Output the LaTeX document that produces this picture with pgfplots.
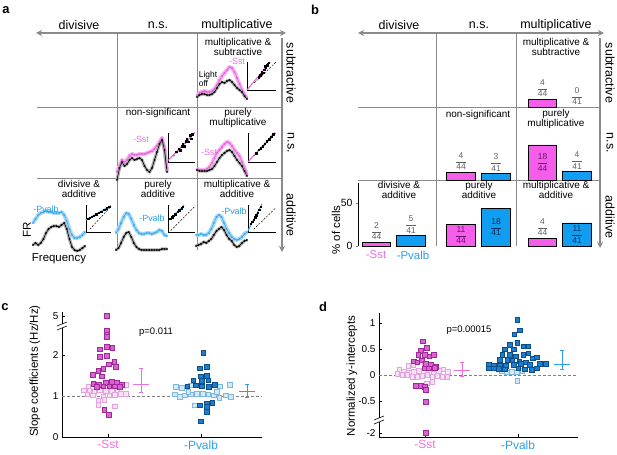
\documentclass[border=0pt]{standalone}
\usepackage{pgfplots}
\pgfplotsset{compat=1.18}
\usepackage{pgfplotstable}
\usepackage{fontspec}
\setmainfont{Liberation Sans}
\usetikzlibrary{arrows.meta}

\definecolor{sstc}{HTML}{EC6FE2}
\definecolor{pvc}{HTML}{2C9FE6}
\definecolor{barm}{HTML}{F55DEB}
\definecolor{barb}{HTML}{119DF0}
\definecolor{darkm}{HTML}{6A126A}
\definecolor{darkb}{HTML}{0B2D5C}
\definecolor{fracg}{HTML}{606060}
\definecolor{sstF}{HTML}{D865CE}
\definecolor{sstE}{HTML}{A02898}
\definecolor{sstOF}{HTML}{F8E2F6}
\definecolor{sstOE}{HTML}{E2A4DE}
\definecolor{pvF}{HTML}{1F7ECC}
\definecolor{pvE}{HTML}{0E4E88}
\definecolor{pvOF}{HTML}{D3E9F8}
\definecolor{pvOE}{HTML}{7EB7E0}
\definecolor{gridc}{HTML}{8A8A8A}
\definecolor{bandm}{HTML}{F6B2F0}
\definecolor{bandb}{HTML}{A8DAF8}
\definecolor{bandk}{HTML}{B0B0B0}
\definecolor{linem}{HTML}{E95BE0}
\definecolor{lineb}{HTML}{35A8EE}

\newcommand{\fr}[2]{$\displaystyle\frac{\hbox{#1}}{\hbox{#2}}$}
\newcommand{\fs}[1]{\fontsize{#1}{#1}\selectfont}
\newcommand{\ft}{\fontsize{10}{10.6}\selectfont}

\tikzset{
  fracup/.style={anchor=south, yshift=2bp, font=\fs{8.5}, text=fracg, inner sep=0pt},
  fracinM/.style={font=\fs{8.5}, text=darkm, inner sep=0pt},
  fracinB/.style={font=\fs{8.5}, text=darkb, inner sep=0pt},
  ctitle/.style={font=\ft, align=center, inner sep=0pt},
  head/.style={font=\fs{12.5}},
  side/.style={font=\fs{12.5}, rotate=-90},
}
\pgfplotsset{
  every axis/.append style={scale only axis, anchor=south west},
  curveax/.style={hide axis, xmin=0, xmax=20, ymin=0, clip=false},
  insetax/.style={xmin=0,xmax=1,ymin=0,ymax=1, axis x line=bottom, axis y line=left,
     axis line style={-, line width=0.7pt}, xtick=\empty, ytick=\empty, clip=false},
  bandM/.style={bandm, line width=4bp, line join=round},
  bandB/.style={bandb, line width=4bp, line join=round},
  bandK/.style={bandk, line width=3.2bp, line join=round},
  crvM/.style={linem, line width=0.6pt, mark=o, mark size=0.85bp, mark options={line width=0.4pt}},
  crvB/.style={lineb, line width=0.6pt, mark=o, mark size=0.85bp, mark options={line width=0.4pt}},
  crvK/.style={black, line width=0.6pt, mark=o, mark size=0.85bp, mark options={line width=0.4pt}},
  dots/.style={only marks, mark=square*, mark size=0.75bp, black},
  diag/.style={dashed, black, line width=0.5pt, dash pattern=on 2pt off 1.5pt},
  barrow/.style={xmin=358, xmax=600, ymin=0, width=242bp, clip=false},
  bM/.style={ybar, bar width=28.5, bar shift=0pt, fill=barm, draw=black, line width=0.6pt},
  bB/.style={ybar, bar width=28.5, bar shift=0pt, fill=barb, draw=black, line width=0.6pt},
  scat/.style={only marks, mark=square*, mark size=2.3bp},
  sOpen/.style={scat, mark options={fill=sstOF, draw=sstOE, line width=0.6pt}},
  sFill/.style={scat, mark options={fill=sstF, draw=sstE, line width=0.6pt}},
  pOpen/.style={scat, mark options={fill=pvOF, draw=pvOE, line width=0.6pt}},
  pFill/.style={scat, mark options={fill=pvF, draw=pvE, line width=0.6pt}},
  statax/.style={axis x line=bottom, axis y line=left, axis line style={-, line width=0.6pt},
     tick align=inside, major tick length=3bp, tick style={black, line width=0.5pt},
     yticklabel style={font=\fs{10}}, xticklabel style={font=\fs{12}},
     /pgf/number format/assume math mode=true, xtick={108,201}},
}

% tuning curves: frequency index, light-off (k), light-on (m or b)
\pgfplotstableread{
i k m
0 3 4
1 5 7
2 6 8
3 6 9
4 5 8
5 5 8
6 6 9
7 8 11
8 12 15
9 16 20
10 18 24
11 17 27
12 19 30
13 20 33
14 18 32
15 15 28
16 12 22
17 10 16
18 8 10
19 4 5
20 1 2
}\tA
\pgfplotstableread{
i k m
0 0 8
1 12 14
2 18 20
3 14 18
4 16 20
5 20 24
6 22 26
7 20 25
8 21 25
9 22 26
10 20 26
11 14 26
12 10 27
13 8 28
14 12 29
15 20 31
16 28 34
17 36 38
18 40 42
19 30 32
20 8 10
}\tB
\pgfplotstableread{
i k m
0 8 9
1 7 8
2 7 8
3 7 8
4 7 9
5 8 11
6 9 15
7 12 20
8 16 25
9 20 28
10 23 31
11 25 34
12 27 36
13 28 35
14 26 32
15 22 28
16 18 25
17 15 22
18 12 16
19 7 10
20 2 4
}\tC
\pgfplotstableread{
i k b
0 10 32
1 12 36
2 10 40
3 12 42
4 16 43
5 22 44
6 26 43
7 28 43
8 29 42
9 29 42
10 28 42
11 30 43
12 32 40
13 26 34
14 16 26
15 8 20
16 5 17
17 4 17
18 5 18
19 7 20
20 9 23
}\tD
\pgfplotstableread{
i k b
0 5 22
1 7 26
2 12 32
3 18 38
4 22 42
5 23 41
6 18 36
7 12 30
8 8 25
9 6 22
10 5 21
11 5 21
12 5 22
13 5 22
14 5 21
15 5 22
16 5 23
17 5 25
18 6 24
19 6 20
20 6 19
}\tE
\pgfplotstableread{
i k b
0 9 20
1 10 20
2 11 21
3 13 20
4 12 20
5 14 22
6 16 26
7 20 32
8 24 38
9 26 40
10 28 38
11 25 32
12 20 26
13 16 22
14 14 18
15 10 16
16 8 15
17 9 16
18 12 18
19 14 21
20 15 23
}\tF

\begin{document}
\begin{tikzpicture}[x=1bp,y=1bp]
\path[use as bounding box] (0,0) rectangle (617,455);

% ================= panel a =================
\node[font=\bfseries\fs{13}] at (6,445) {a};
\foreach \t/\x in {divisive/79, n.s./158, multiplicative/237}
  \node[head] at (\x,430) {\t};
\draw[gridc, line width=0.8pt] (117,422) -- (117,205);
\draw[gridc, line width=0.8pt] (197,422) -- (197,205);
\draw[gridc, line width=0.8pt] (37,348) -- (282,348);
\draw[gridc, line width=0.8pt] (37,277) -- (282,277);
\draw[gridc, line width=1.6pt, {Stealth[length=6bp,width=6bp]}-{Stealth[length=6bp,width=6bp]}] (36,422) -- (286,422);
\draw[gridc, line width=1.6pt, -{Stealth[length=6bp,width=6bp]}] (282,417) -- (282,203);
\node[side] at (291,382) {subtractive};
\node[side] at (291,312) {n.s.};
\node[side] at (291,240) {additive};
\node[ctitle] at (238,408) {multiplicative \&\\subtractive};
\node[ctitle] at (158,342) {non-significant};
\node[ctitle] at (238,337) {purely\\multiplicative};
\node[ctitle] at (79,266) {divisive \&\\additive};
\node[ctitle] at (158,266) {purely\\additive};
\node[ctitle] at (237,266) {multiplicative \&\\additive};

% curves
\begin{axis}[curveax, at={(197bp,355bp)}, width=50bp, height=40bp, ymax=40]
\addplot[bandM] table[x=i,y=m]{\tA};
\addplot[bandK] table[x=i,y=k]{\tA};
\addplot[crvM] table[x=i,y=m]{\tA};
\addplot[crvK] table[x=i,y=k]{\tA};
\end{axis}
\begin{axis}[curveax, at={(117bp,275bp)}, width=50bp, height=45bp, ymax=45]
\addplot[bandM] table[x=i,y=m]{\tB};
\addplot[bandK] table[x=i,y=k]{\tB};
\addplot[crvM] table[x=i,y=m]{\tB};
\addplot[crvK] table[x=i,y=k]{\tB};
\end{axis}
\begin{axis}[curveax, at={(197bp,277bp)}, width=50bp, height=45bp, ymax=45]
\addplot[bandM] table[x=i,y=m]{\tC};
\addplot[bandK] table[x=i,y=k]{\tC};
\addplot[crvM] table[x=i,y=m]{\tC};
\addplot[crvK] table[x=i,y=k]{\tC};
\end{axis}
\begin{axis}[curveax, at={(33bp,200bp)}, width=52bp, height=50bp, ymax=50]
\addplot[bandB] table[x=i,y=b]{\tD};
\addplot[bandK] table[x=i,y=k]{\tD};
\addplot[crvB] table[x=i,y=b]{\tD};
\addplot[crvK] table[x=i,y=k]{\tD};
\end{axis}
\begin{axis}[curveax, at={(116bp,200bp)}, width=51bp, height=50bp, ymax=50]
\addplot[bandB] table[x=i,y=b]{\tE};
\addplot[bandK] table[x=i,y=k]{\tE};
\addplot[crvB] table[x=i,y=b]{\tE};
\addplot[crvK] table[x=i,y=k]{\tE};
\end{axis}
\begin{axis}[curveax, at={(196bp,200bp)}, width=51bp, height=50bp, ymax=50]
\addplot[bandB] table[x=i,y=b]{\tF};
\addplot[bandK] table[x=i,y=k]{\tF};
\addplot[crvB] table[x=i,y=b]{\tF};
\addplot[crvK] table[x=i,y=k]{\tF};
\end{axis}

% insets
\begin{axis}[insetax, at={(247bp,365bp)}, width=29bp, height=28bp]
\addplot[diag] coordinates {(0.25,0.25)(1,1)};
\addplot[linem, line width=1pt] coordinates {(0,0)(0.8,1)};
\addplot[dots] coordinates {(0.4,0.45)(0.45,0.52)(0.5,0.58)(0.55,0.62)(0.6,0.72)(0.65,0.8)(0.7,0.88)(0.72,0.93)(0.62,0.85)(0.5,0.65)(0.75,0.97)};
\end{axis}
\begin{axis}[insetax, at={(168bp,293bp)}, width=27bp, height=29bp]
\addplot[diag] coordinates {(0.2,0.2)(1,1)};
\addplot[linem, line width=1pt] coordinates {(0,0.05)(1,1.02)};
\addplot[dots] coordinates {(0.3,0.35)(0.4,0.45)(0.45,0.4)(0.55,0.62)(0.6,0.55)(0.7,0.78)(0.75,0.7)(0.82,0.92)(0.85,0.8)(0.5,0.55)(0.65,0.72)(0.9,0.95)};
\end{axis}
\begin{axis}[insetax, at={(248bp,293bp)}, width=28bp, height=29bp]
\addplot[diag] coordinates {(0.2,0.2)(1,1)};
\addplot[linem, line width=1pt] coordinates {(0,0)(0.95,1.02)};
\addplot[dots] coordinates {(0.3,0.3)(0.38,0.42)(0.45,0.47)(0.52,0.55)(0.6,0.63)(0.67,0.72)(0.75,0.78)(0.82,0.88)(0.9,0.95)};
\end{axis}
\begin{axis}[insetax, at={(86bp,223bp)}, width=25bp, height=27bp]
\addplot[diag] coordinates {(0.15,0.1)(1,0.95)};
\addplot[lineb, line width=1pt] coordinates {(0,0.45)(1,0.98)};
\addplot[dots] coordinates {(0.08,0.5)(0.15,0.53)(0.22,0.57)(0.3,0.6)(0.4,0.66)(0.5,0.72)(0.6,0.76)(0.72,0.83)(0.82,0.88)(0.92,0.93)};
\end{axis}
\begin{axis}[insetax, at={(168bp,223bp)}, width=27bp, height=27bp]
\addplot[diag] coordinates {(0.1,0.05)(1,0.95)};
\addplot[lineb, line width=1pt] coordinates {(0.05,0.45)(0.6,1)};
\addplot[dots] coordinates {(0.08,0.5)(0.15,0.55)(0.2,0.6)(0.27,0.65)(0.35,0.75)(0.42,0.8)(0.5,0.88)(0.55,0.93)};
\end{axis}
\begin{axis}[insetax, at={(248bp,223bp)}, width=28bp, height=27bp]
\addplot[diag] coordinates {(0.2,0.1)(1,0.9)};
\addplot[lineb, line width=1pt] coordinates {(0,0.05)(0.5,1.05)};
\addplot[dots] coordinates {(0.1,0.3)(0.15,0.38)(0.2,0.45)(0.25,0.55)(0.3,0.62)(0.35,0.72)(0.4,0.82)(0.45,0.93)};
\end{axis}

\node[font=\fs{8.5}, align=left, inner sep=0pt] at (208,376) {Light\\off};
\node[font=\fs{9}, text=sstc] at (237,394) {-Sst};
\node[font=\fs{9}, text=sstc] at (141,316) {-Sst};
\node[font=\fs{9}, text=sstc] at (209,303) {-Sst};
\node[font=\fs{9}, text=pvc] at (46,246) {-Pvalb};
\node[font=\fs{9}, text=pvc] at (152,237) {-Pvalb};
\node[font=\fs{9}, text=pvc] at (234,244) {-Pvalb};
\node[font=\fs{11.5}, rotate=90] at (27,225) {FR};
\node[font=\fs{11.5}] at (59,196) {Frequency};

% ================= panel b =================
\node[font=\bfseries\fs{13}] at (315,445) {b};
\foreach \t/\x in {divisive/399, n.s./479, multiplicative/556}
  \node[head] at (\x,430) {\t};
\draw[gridc, line width=0.8pt] (436,422) -- (436,209);
\draw[gridc, line width=0.8pt] (516,422) -- (516,209);
\draw[gridc, line width=0.8pt] (358,348) -- (600,348);
\draw[gridc, line width=0.8pt] (358,275) -- (600,275);
\draw[gridc, line width=1.6pt, {Stealth[length=6bp,width=6bp]}-{Stealth[length=6bp,width=6bp]}] (358,422) -- (604,422);
\draw[gridc, line width=1.6pt, -{Stealth[length=6bp,width=6bp]}] (600,417) -- (600,207);
\node[side] at (610,382) {subtractive};
\node[side] at (610,312) {n.s.};
\node[side] at (610,238) {additive};
\node[ctitle] at (556,408) {multiplicative \&\\subtractive};
\node[ctitle] at (478,340) {non-significant};
\node[ctitle] at (556,336) {purely\\multiplicative};
\node[ctitle] at (399,265) {divisive \&\\additive};
\node[ctitle] at (479,265) {purely\\additive};
\node[ctitle] at (556,265) {multiplicative \&\\additive};

% additive row (with y axis)
\begin{axis}[barrow, at={(358bp,209bp)}, height=63bp, ymax=73.26,
  axis x line=none, axis y line=left, axis line style={-, line width=0.6pt},
  ytick={0,50}, tick align=outside, major tick length=2bp,
  yticklabel style={font=\fs{10.5}}, /pgf/number format/assume math mode=true]
\addplot[bM] coordinates {(376.5,4.55)(461,25.0)(542.5,9.09)};
\addplot[bB] coordinates {(411,12.2)(496,43.9)(577,26.8)};
\node[fracup] at (axis cs:376.5,4.55) {\fr{2}{44}};
\node[fracup] at (axis cs:411,12.2) {\fr{5}{41}};
\node[fracinM] at (axis cs:461,12.5) {\fr{11}{44}};
\node[fracinB] at (axis cs:496,21.95) {\fr{18}{41}};
\node[fracup] at (axis cs:542.5,9.09) {\fr{4}{44}};
\node[fracinB] at (axis cs:577,13.4) {\fr{11}{41}};
\end{axis}
% n.s. row
\begin{axis}[barrow, hide axis, at={(358bp,275bp)}, height=73bp, ymax=84.88]
\addplot[bM] coordinates {(461,9.09)(542.5,40.9)};
\addplot[bB] coordinates {(496,7.32)(577,9.76)};
\node[fracup] at (axis cs:461,9.09) {\fr{4}{44}};
\node[fracup] at (axis cs:496,7.32) {\fr{3}{41}};
\node[fracinM] at (axis cs:542.5,20.45) {\fr{18}{44}};
\node[fracup] at (axis cs:577,9.76) {\fr{4}{41}};
\end{axis}
% subtractive row
\begin{axis}[barrow, hide axis, at={(358bp,348bp)}, height=74bp, ymax=86.05]
\addplot[bM] coordinates {(542.5,9.09)};
\node[fracup] at (axis cs:542.5,9.09) {\fr{4}{44}};
\node[fracup] at (axis cs:577,0) {\fr{0}{41}};
\end{axis}
\node[font=\fs{11.5}, rotate=90] at (336,225) {\% of cells};
\node[font=\fs{11.5}, text=sstc] at (376,200) {-Sst};
\node[font=\fs{11.5}, text=pvc] at (413,200) {-Pvalb};

% ================= panel c =================
\node[font=\bfseries\fs{13}] at (5,148) {c};
\begin{axis}[statax, at={(62bp,18bp)}, width=200bp, height=125bp,
  xmin=62, xmax=262, ymin=0, ymax=3.05,
  ytick={0,1,2,2.95}, yticklabels={0,1,2,5},
  xticklabels={\textcolor{sstc}{-Sst},\textcolor{pvc}{-Pvalb}}]
\addplot[gray, dashed, line width=0.8pt, dash pattern=on 3pt off 2pt] coordinates {(62,1)(262,1)};
\addplot[sOpen] coordinates {(84,1.14)(89.3,1.12)(94.3,1.10)(100,1.14)(106,1.12)(112,1.12)(117.3,1.10)(125.7,1.06)(125.7,1.28)(88.3,1.24)(87.3,1.04)(92.7,1.02)(103.3,0.99)(109.3,1.02)(115,1.03)(120.7,1.06)(98.3,0.89)(98.3,0.79)(104.3,0.91)(115,0.75)};
\addplot[sFill] coordinates {(106.7,2.95)(106.7,2.59)(106.7,2.50)(106.7,2.44)(100,2.14)(106.7,2.20)(112.3,2.18)(100,1.95)(106.7,1.98)(114.3,1.83)(109,1.77)(115.7,1.71)(103.3,1.67)(98.3,1.61)(92.7,1.52)(101.7,1.48)(93.3,1.30)(99,1.28)(106,1.32)(111.7,1.34)(116.7,1.32)(121.7,1.28)(96.7,1.22)(103.3,1.24)(109.3,1.24)(115,1.24)(120,1.22)(104.3,0.67)(109,0.54)};
\addplot[pOpen] coordinates {(176,1.22)(181.7,1.20)(190.7,1.26)(220,1.24)(230,1.28)(175,1.04)(180,0.98)(185,1.02)(190.7,1.04)(196.7,1.06)(202.7,1.06)(208.3,1.04)(214,1.02)(219.3,0.96)(225.7,1.02)(231,0.98)(195,0.77)(188.3,1.10)(216.7,1.10)};
\addplot[pFill] coordinates {(203.3,2.06)(200,1.68)(206.7,1.72)(201,1.48)(206.7,1.50)(193.3,1.38)(201.7,1.37)(208.3,1.38)(196,1.26)(201.7,1.24)(209,1.22)(215,1.28)(187.3,1.24)(206.7,0.81)(200,0.77)(206.7,0.73)(212.3,0.84)(206.7,0.61)(200.7,0.38)};
\addplot[sstc, line width=0.9pt, mark=-, mark size=8bp, mark options={line width=0.9pt},
  error bars/.cd, y dir=both, y explicit,
  error bar style={line width=0.9pt}, error mark options={rotate=90, sstc, mark size=2bp, line width=0.9pt}]
  coordinates {(141,1.27) += (0,0.41) -= (0,0.19)};
\addplot[pvc, line width=0.9pt, mark=-, mark size=8bp, mark options={line width=0.9pt},
  error bars/.cd, y dir=both, y explicit,
  error bar style={line width=0.9pt}, error mark options={rotate=90, pvc, mark size=2bp, line width=0.9pt}]
  coordinates {(247,1.10) += (0,0.18) -= (0,0.14)};
\end{axis}
\fill[white] (57,127) rectangle (67,131);
\draw[line width=0.6pt] (57,125) -- (67,129);
\draw[line width=0.6pt] (57,129) -- (67,133);
\node[font=\fs{11.5}, rotate=90] at (35,84) {Slope coefficients (Hz/Hz)};
\node[font=\fs{9.5}] at (156,123) {p=0.011};

% ================= panel d =================
\node[font=\bfseries\fs{13}] at (323,148) {d};
\begin{axis}[statax, at={(379bp,18bp)}, width=199bp, height=124bp,
  xmin=379, xmax=578, ymin=-1.19, ymax=1.19, xtick={425,518},
  ytick={-1.115,-0.5,0,0.5,1}, yticklabels={-2,-0.5,0,0.5,1},
  xticklabels={\textcolor{sstc}{-Sst},\textcolor{pvc}{-Pvalb}}]
\addplot[gray, dashed, line width=0.8pt, dash pattern=on 3pt off 2pt] coordinates {(379,0)(578,0)};
\addplot[sOpen] coordinates {(399.3,0.10)(404,0.06)(409,0.05)(414,0.06)(419,0.08)(429,0.05)(434,0.03)(439,0.08)(443.3,0.11)(447.7,0.06)(397.3,0.02)(402.3,0.00)(407.3,0.00)(412.3,-0.03)(417.3,-0.03)(422.3,-0.02)(427.3,0.00)(432.3,-0.03)(437.3,-0.01)(442.3,-0.03)(447.3,-0.03)(408.3,0.18)(413.3,0.19)(425,0.19)(432.3,-0.13)(426.7,-0.16)};
\addplot[sFill] coordinates {(422.7,0.65)(426.7,0.52)(421,0.47)(418.3,0.39)(425,0.39)(429.3,0.36)(434,0.39)(414,0.26)(417.3,0.24)(421.7,0.28)(426,0.21)(430.7,0.19)(435.7,0.16)(424.3,0.13)(429,0.13)(435,0.14)(416,-0.21)(421,-0.21)(425,-0.23)(426,-0.28)(425.7,-0.52)(425.7,-1.115)};
\addplot[pOpen] coordinates {(506.7,0.05)(511.7,0.06)(516.7,0.05)(522.3,0.08)(501.7,0.08)(517.3,-0.11)};
\addplot[pFill] coordinates {(517.3,1.06)(520,0.86)(514.3,0.78)(517.3,0.62)(510,0.58)(505,0.49)(514,0.49)(523.3,0.55)(528.3,0.55)(502.3,0.39)(510,0.39)(516,0.36)(523.3,0.39)(528.3,0.42)(500,0.29)(507.3,0.29)(512.3,0.28)(519.3,0.26)(526,0.24)(532.7,0.32)(536.7,0.34)(489,0.19)(494,0.18)(500,0.18)(506,0.18)(514,0.19)(520.7,0.21)(530,0.19)(540,0.21)(545.7,0.21)(489,0.13)(494,0.13)(499,0.12)(505,0.11)(518.3,0.13)(525,0.11)(531.7,0.10)(536.7,0.13)};
\addplot[sstc, line width=0.9pt, mark=-, mark size=8bp, mark options={line width=0.9pt},
  error bars/.cd, y dir=both, y explicit,
  error bar style={line width=0.9pt}, error mark options={rotate=90, sstc, mark size=2bp, line width=0.9pt}]
  coordinates {(462,0.08) += (0,0.16) -= (0,0.11)};
\addplot[pvc, line width=0.9pt, mark=-, mark size=8bp, mark options={line width=0.9pt},
  error bars/.cd, y dir=both, y explicit,
  error bar style={line width=0.9pt}, error mark options={rotate=90, pvc, mark size=2bp, line width=0.9pt}]
  coordinates {(562,0.21) += (0,0.26) -= (0,0.10)};
\end{axis}
\fill[white] (374,33) rectangle (384,37);
\draw[line width=0.6pt] (374,31) -- (384,35);
\draw[line width=0.6pt] (374,35) -- (384,39);
\node[font=\fs{11.5}, rotate=90] at (352,79) {Normalized y-intercepts};
\node[font=\fs{9.5}] at (469,125) {p=0.00015};
\end{tikzpicture}
\end{document}
